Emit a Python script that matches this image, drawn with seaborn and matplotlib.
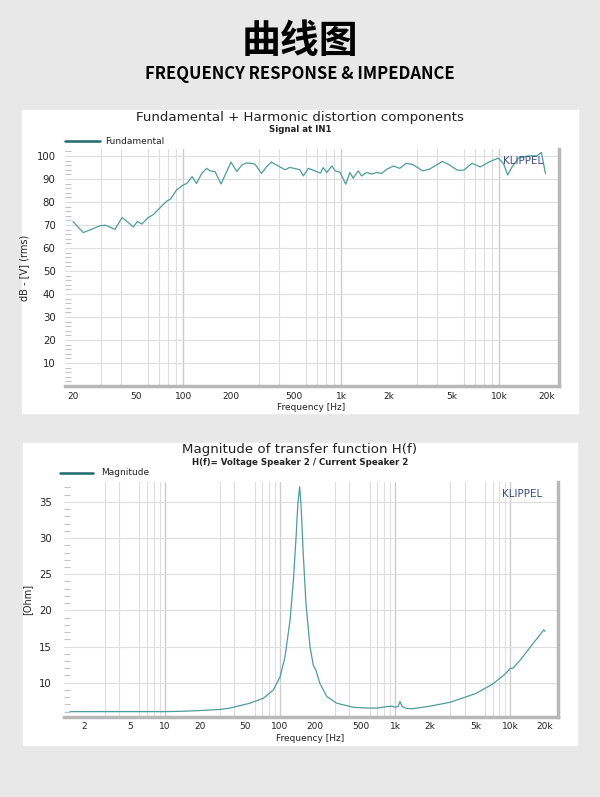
import seaborn as sns
import matplotlib.pyplot as plt
import matplotlib.ticker as mticker
import matplotlib.patches as mpatches
import pandas as pd

# Fundamental response (Signal at IN1)
fund_freq = [20, 23.2, 26, 29.6, 32, 36.9, 40.9, 44, 48.2, 51.1, 54.6, 59.9, 64.5, 70,
             78.6, 82.8, 90.7, 99.9, 105, 113.5, 121, 130.6, 140.5, 147.3, 158.5, 173,
             188, 200, 218, 234, 251, 283, 312, 335, 360, 409, 440, 472, 545, 574, 618,
             680, 736, 767, 808, 870, 914, 982, 1065, 1131, 1188, 1278, 1342, 1444, 1554,
             1672, 1800, 1937, 2134, 2340, 2576, 2835, 3275, 3602, 4360, 4805, 5415, 5960,
             6710, 7560, 8740, 9850, 10590, 11290, 11950, 13170, 15270, 17290, 18450, 19560]
fund_db = [71.5, 66.7, 68, 69.6, 69.9, 68.1, 73.2, 71.5, 69.1, 71.5, 70.4, 73.2, 74.5, 77,
           80.4, 81.2, 85.3, 87.4, 88, 91, 88, 92.4, 94.6, 93.5, 93.2, 87.8,
           93.2, 97.3, 93.2, 96, 97, 96.5, 92.4, 95.2, 97.3, 95.2, 94, 95, 94, 91.3, 94.6,
           93.5, 92.5, 94.9, 92.8, 95.6, 93.5, 92.8, 87.7, 92.8, 90.3, 93.5, 91.3, 92.8, 92.1,
           92.8, 92.4, 94.2, 95.6, 94.6, 96.8, 96.2, 93.5, 94.2, 97.6, 96.2, 93.8, 93.8,
           96.8, 95.2, 97.6, 99, 96.8, 91.7, 94.9, 99, 100, 100, 101.5, 92.4]

# Impedance magnitude
mag_freq = [1.5, 5, 10, 14, 20, 30, 36.9, 54.9, 71.6, 87.5, 100, 110.5, 122, 130.5, 137.7,
            142.7, 148, 152, 159, 168, 182, 194.5, 205, 222, 254, 310, 433, 565, 700, 850,
            950, 1000, 1060, 1100, 1150, 1250, 1400, 2000, 3000, 5000, 7000, 9000, 10000,
            10500, 12000, 15000, 18000, 19500, 20000]
mag_ohm = [6.0, 6.0, 6.0, 6.05, 6.15, 6.3, 6.5, 7.17, 7.85, 9.0, 10.8, 13.6, 18.6, 24.1, 30.1,
           34.7, 37.1, 34.7, 27.8, 20.9, 15.0, 12.4, 11.7, 9.9, 8.1, 7.17, 6.6, 6.5, 6.5, 6.7,
           6.75, 6.6, 6.7, 7.4, 6.7, 6.45, 6.4, 6.75, 7.3, 8.5, 9.8, 11.2, 12.0,
           12.0, 13.0, 15.0, 16.6, 17.3, 17.1]

top_ticks = [20, 50, 100, 200, 500, 1000, 2000, 5000, 10000, 20000]
top_labels = ['20', '50', '100', '200', '500', '1k', '2k', '5k', '10k', '20k']
bot_ticks = [2, 5, 10, 20, 50, 100, 200, 500, 1000, 2000, 5000, 10000, 20000]
bot_labels = ['2', '5', '10', '20', '50', '100', '200', '500', '1k', '2k', '5k', '10k', '20k']
top_yticks = [10, 20, 30, 40, 50, 60, 70, 80, 90, 100]
bot_yticks = [10, 15, 20, 25, 30, 35]

fund = pd.DataFrame({'f': fund_freq, 'v': fund_db})
mag = pd.DataFrame({'f': mag_freq, 'v': mag_ohm})

sns.set_style('white')
plt.rcParams['font.family'] = ['DejaVu Sans']
plt.rcParams['text.color'] = '#222222'
plt.rcParams['axes.labelcolor'] = '#222222'
plt.rcParams['xtick.color'] = '#222222'
plt.rcParams['ytick.color'] = '#222222'

line_c = '#4f9c9c'
leg_c = '#1f6b6b'
grid_c = '#dedede'

fig = plt.figure(figsize=(6, 7.97), dpi=100)
fig.patch.set_facecolor('#e8e8e8')
H = 797.0

# white panels
fig.patches.append(mpatches.Rectangle((22/600, 1-413/H), 556/600, 303/H,
                                      transform=fig.transFigure, color='white', zorder=-5))
fig.patches.append(mpatches.Rectangle((23/600, 1-745/H), 554/600, 302/H,
                                      transform=fig.transFigure, color='white', zorder=-5))

# header
fig.text(0.5, 1-41/H, '曲线图', ha='center', va='center', fontsize=28, fontweight='bold',
         color='black', family=['Noto Sans CJK SC', 'DejaVu Sans'])
fig.text(0.5, 1-74/H, 'FREQUENCY RESPONSE & IMPEDANCE', ha='center', va='center',
         fontsize=12, fontweight='bold', color='black',
         family=['Noto Sans CJK SC', 'DejaVu Sans'])


def style_axes(ax, xlim, ylim, xt, xl, yt, ymin, ypad):
    ax.set_xscale('log')
    ax.set_xlim(*xlim)
    ax.set_ylim(*ylim)
    ax.set_facecolor('white')
    ax.xaxis.set_major_locator(mticker.FixedLocator(xt))
    ax.xaxis.set_major_formatter(mticker.FixedFormatter(xl))
    ax.xaxis.set_minor_locator(mticker.LogLocator(base=10, subs=range(1, 10), numticks=20))
    ax.xaxis.set_minor_formatter(mticker.NullFormatter())
    ax.yaxis.set_major_locator(mticker.FixedLocator(yt))
    ax.yaxis.set_minor_locator(mticker.MultipleLocator(ymin))
    ax.grid(True, which='minor', axis='x', color=grid_c, lw=0.8)
    ax.grid(True, which='major', axis='y', color=grid_c, lw=0.8)
    # decade lines slightly darker
    for d in [1, 10, 100, 1000, 10000]:
        if xlim[0] < d < xlim[1]:
            ax.axvline(d, color='#cccccc', lw=1.0, zorder=0.5)
    ax.tick_params(axis='x', which='both', length=0, labelsize=6.5, pad=4)
    ax.tick_params(axis='y', which='major', length=0, labelsize=7.3, pad=ypad)
    ax.tick_params(axis='y', which='minor', length=4, width=0.8, color='#c4c4c4',
                   direction='in', left=True)
    for s in ['top', 'left']:
        ax.spines[s].set_visible(False)
    for s in ['bottom', 'right']:
        ax.spines[s].set_color('#b8b8b8')
        ax.spines[s].set_linewidth(2.5)
    ax.set_xlabel('Frequency [Hz]', fontsize=6.5, labelpad=2)


# top chart
ax1 = fig.add_axes([64.6/600, 1-386/H, 494/600, 237/H])
sns.lineplot(data=fund, x='f', y='v', ax=ax1, color=line_c, lw=0.9, sort=False)
style_axes(ax1, (17.7, 23700), (0, 103), top_ticks, top_labels, top_yticks, 2, 6.5)
ax1.set_ylabel('dB - [V] (rms)', fontsize=7, labelpad=5)
ax1.text(0.968, 0.972, 'KLIPPEL', transform=ax1.transAxes, ha='right', va='top',
         fontsize=7.5, color='#3b4f80')
fig.text(0.5, 1-117/H, 'Fundamental + Harmonic distortion components', ha='center',
         va='center', fontsize=9.6)
fig.text(0.5, 1-129/H, 'Signal at IN1', ha='center', va='center', fontsize=6.2,
         fontweight='bold')
fig.lines.append(plt.Line2D([65/600, 100/600], [1-141/H, 1-141/H], transform=fig.transFigure,
                            color=leg_c, lw=1.8))
fig.text(105/600, 1-141/H, 'Fundamental', ha='left', va='center', fontsize=6.5)

# bottom chart
ax2 = fig.add_axes([63.6/600, 1-716.7/H, 494/600, 235/H])
sns.lineplot(data=mag, x='f', y='v', ax=ax2, color=line_c, lw=0.9, sort=False)
style_axes(ax2, (1.32, 25700), (5.3, 37.8), bot_ticks, bot_labels, bot_yticks, 1, 8.5)
ax2.set_ylabel('[Ohm]', fontsize=7, labelpad=5)
ax2.text(0.968, 0.97, 'KLIPPEL', transform=ax2.transAxes, ha='right', va='top',
         fontsize=7.5, color='#3b4f80')
fig.text(0.5, 1-450/H, 'Magnitude of transfer function H(f)', ha='center', va='center',
         fontsize=9.6)
fig.text(0.5, 1-463/H, 'H(f)= Voltage Speaker 2 / Current Speaker 2', ha='center',
         va='center', fontsize=6.2, fontweight='bold')
fig.lines.append(plt.Line2D([60/600, 93/600], [1-473/H, 1-473/H], transform=fig.transFigure,
                            color=leg_c, lw=1.8))
fig.text(101/600, 1-473/H, 'Magnitude', ha='left', va='center', fontsize=6.5)

fig.savefig('out.png', dpi=100, facecolor=fig.get_facecolor())
